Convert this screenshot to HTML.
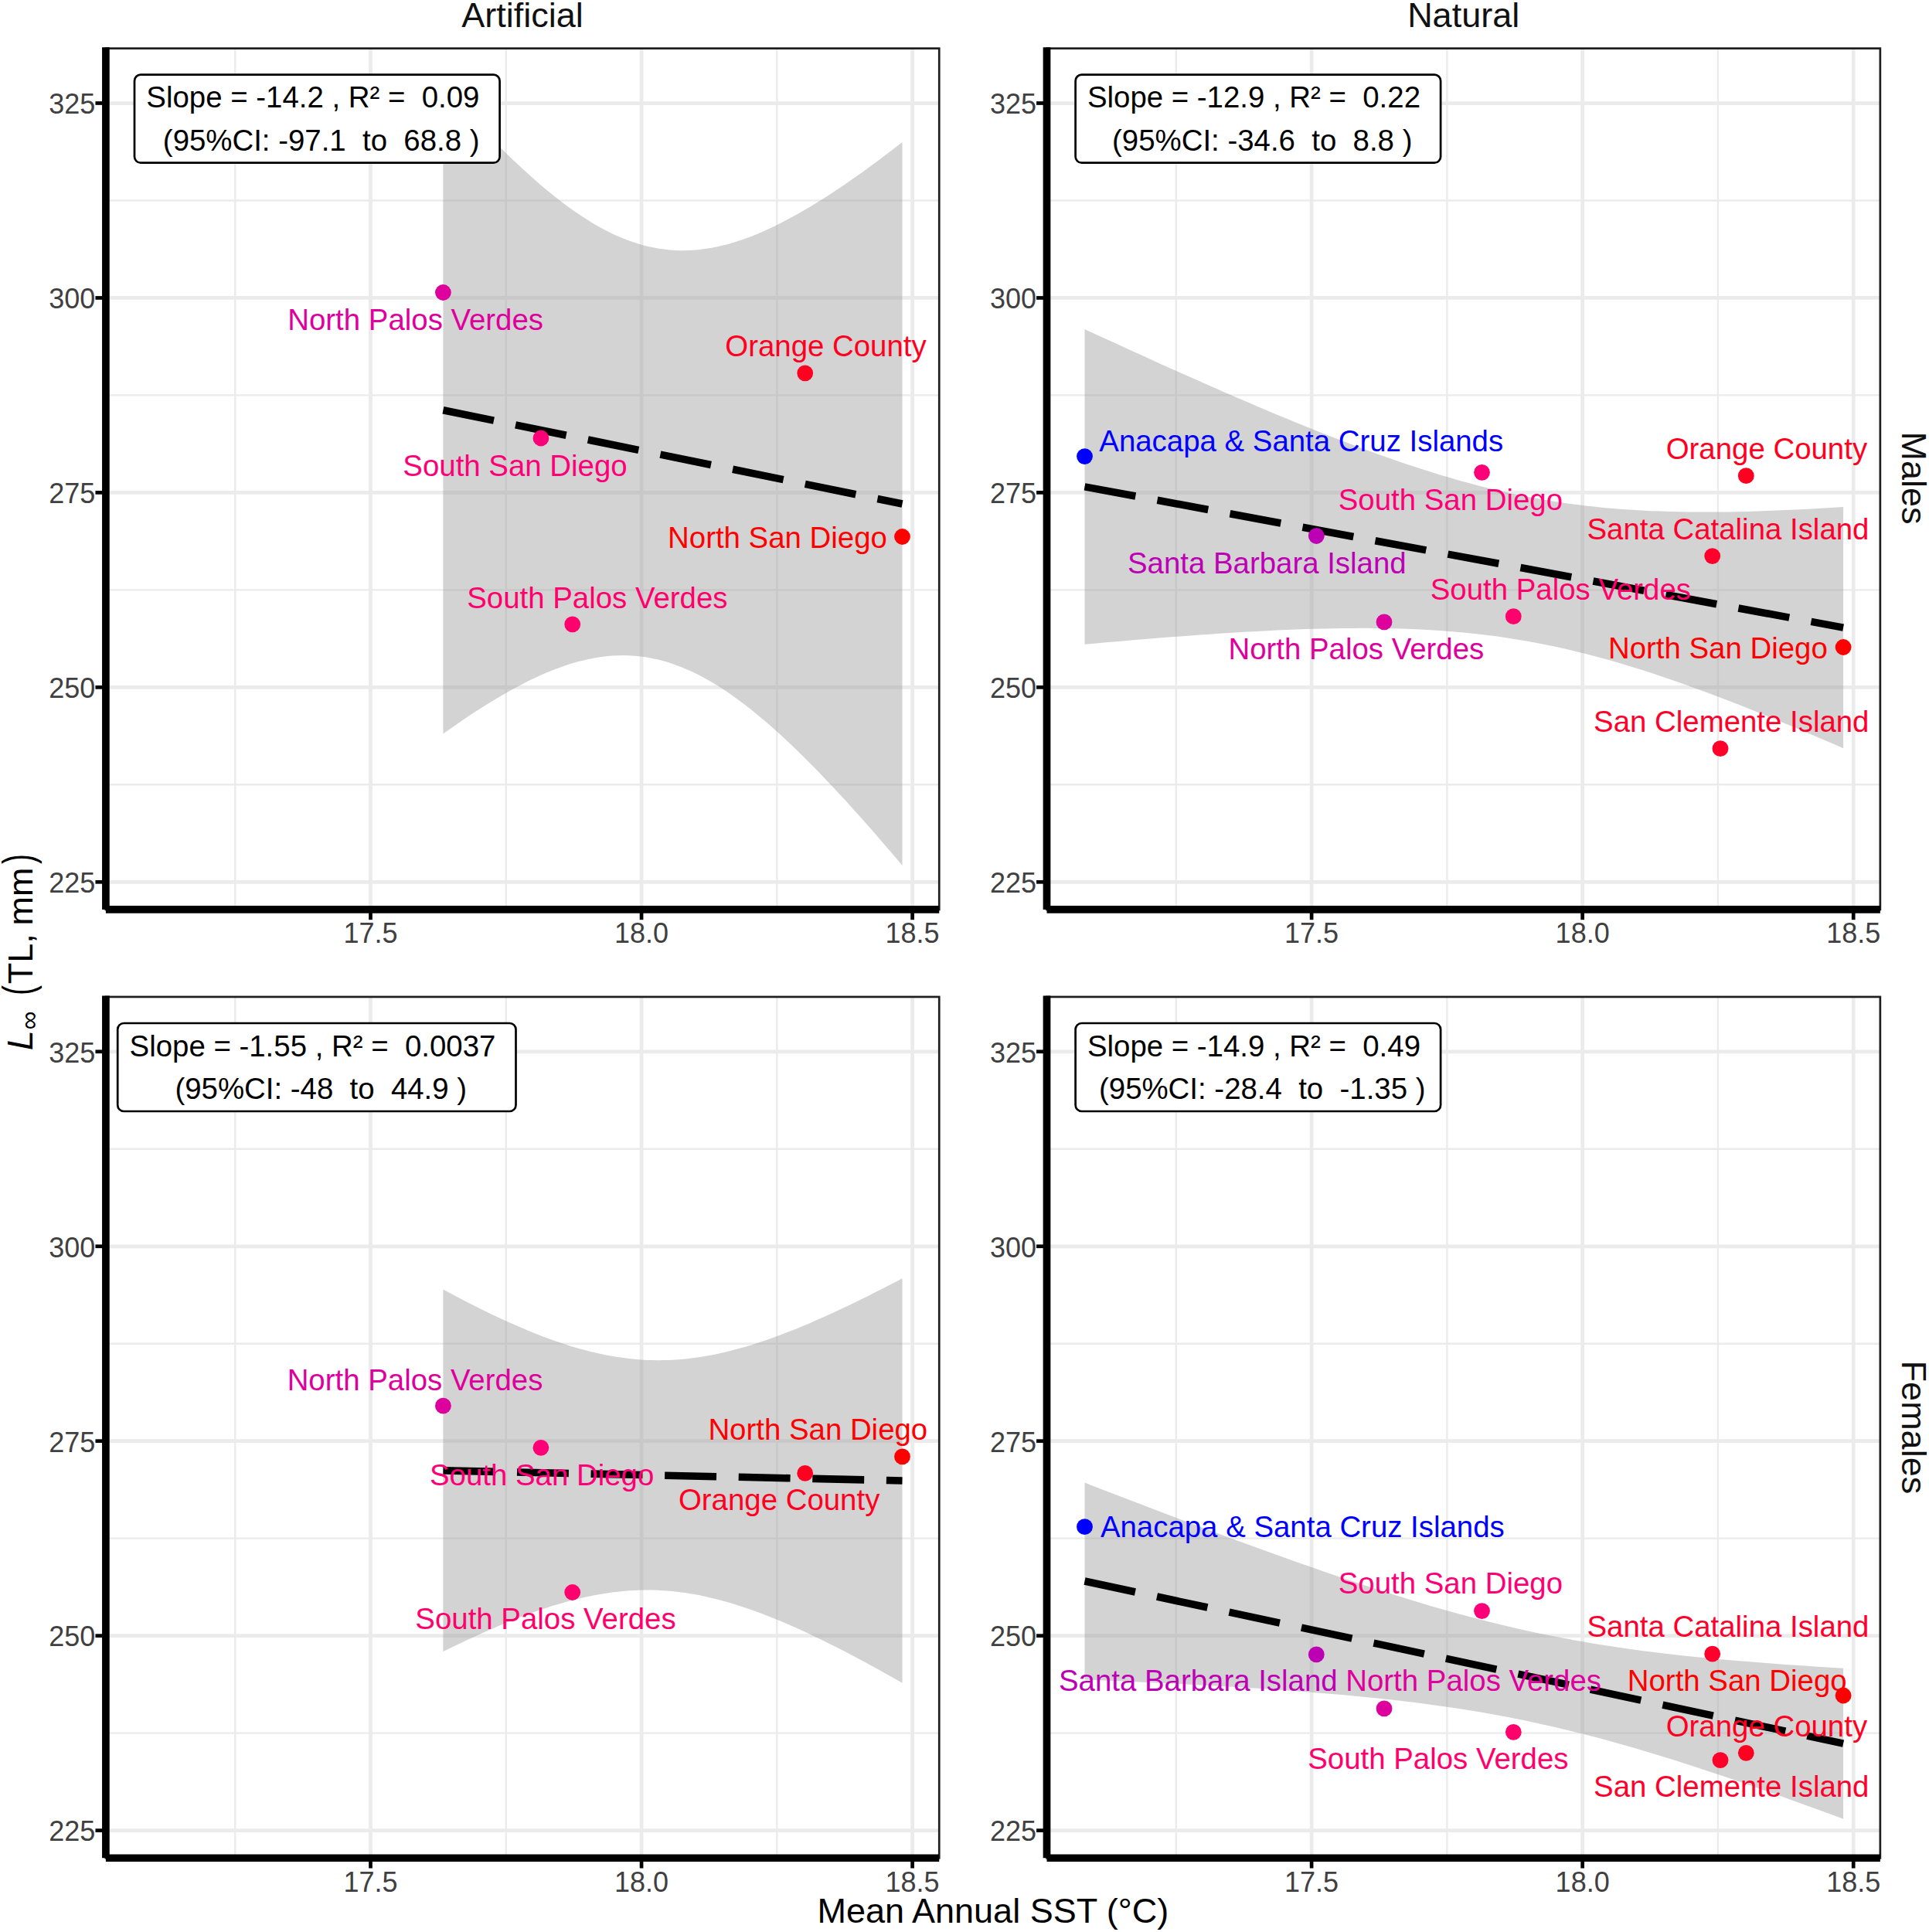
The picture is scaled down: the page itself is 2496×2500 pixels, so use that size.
<!DOCTYPE html>
<html lang="en"><head><meta charset="utf-8"><title>L-infinity vs Mean Annual SST</title>
<style>
html,body{margin:0;padding:0;background:#fff;}
body{width:2496px;height:2500px;overflow:hidden;}
svg{display:block;font-family:"Liberation Sans", "DejaVu Sans", sans-serif;}
text{white-space:pre;}
.ax{font-size:36.0px;fill:#404040;}
.ti{font-size:45.0px;fill:#000;}
.st{font-size:45.0px;fill:#111;}
.lb{font-size:38.4px;}
.an{font-size:38.4px;fill:#000;text-anchor:middle;}
</style></head><body>
<svg width="2496" height="2500" viewBox="0 0 2496 2500">
<rect width="2496" height="2500" fill="#fff"/>
<g id="panel-0-0">
<clipPath id="clip00"><rect x="136.90" y="62.65" width="1078.35" height="1114.30"/></clipPath>
<g clip-path="url(#clip00)">
<line x1="136.90" x2="1215.25" y1="1015.32" y2="1015.32" stroke="#ebebeb" stroke-width="2.4"/>
<line x1="136.90" x2="1215.25" y1="763.38" y2="763.38" stroke="#ebebeb" stroke-width="2.4"/>
<line x1="136.90" x2="1215.25" y1="511.42" y2="511.42" stroke="#ebebeb" stroke-width="2.4"/>
<line x1="136.90" x2="1215.25" y1="259.48" y2="259.48" stroke="#ebebeb" stroke-width="2.4"/>
<line y1="62.65" y2="1176.95" x1="304.23" x2="304.23" stroke="#ebebeb" stroke-width="2.4"/>
<line y1="62.65" y2="1176.95" x1="654.77" x2="654.77" stroke="#ebebeb" stroke-width="2.4"/>
<line y1="62.65" y2="1176.95" x1="1005.33" x2="1005.33" stroke="#ebebeb" stroke-width="2.4"/>
<line x1="136.90" x2="1215.25" y1="1141.30" y2="1141.30" stroke="#ebebeb" stroke-width="4.75"/>
<line x1="136.90" x2="1215.25" y1="889.35" y2="889.35" stroke="#ebebeb" stroke-width="4.75"/>
<line x1="136.90" x2="1215.25" y1="637.40" y2="637.40" stroke="#ebebeb" stroke-width="4.75"/>
<line x1="136.90" x2="1215.25" y1="385.45" y2="385.45" stroke="#ebebeb" stroke-width="4.75"/>
<line x1="136.90" x2="1215.25" y1="133.50" y2="133.50" stroke="#ebebeb" stroke-width="4.75"/>
<line y1="62.65" y2="1176.95" x1="479.50" x2="479.50" stroke="#ebebeb" stroke-width="4.75"/>
<line y1="62.65" y2="1176.95" x1="830.05" x2="830.05" stroke="#ebebeb" stroke-width="4.75"/>
<line y1="62.65" y2="1176.95" x1="1180.60" x2="1180.60" stroke="#ebebeb" stroke-width="4.75"/>
<polygon points="573.4,112.0 580.9,120.4 588.4,128.8 596.0,137.0 603.5,145.2 611.0,153.3 618.5,161.2 626.0,169.1 633.6,176.9 641.1,184.5 648.6,192.0 656.1,199.4 663.6,206.7 671.2,213.8 678.7,220.8 686.2,227.6 693.7,234.2 701.2,240.7 708.8,247.0 716.3,253.1 723.8,259.0 731.3,264.7 738.8,270.2 746.4,275.5 753.9,280.5 761.4,285.3 768.9,289.9 776.4,294.2 784.0,298.2 791.5,301.9 799.0,305.4 806.5,308.6 814.0,311.5 821.6,314.1 829.1,316.4 836.6,318.4 844.1,320.1 851.6,321.5 859.2,322.6 866.7,323.4 874.2,323.9 881.7,324.2 889.3,324.1 896.8,323.7 904.3,323.1 911.8,322.1 919.3,320.9 926.9,319.5 934.4,317.8 941.9,315.9 949.4,313.7 956.9,311.3 964.5,308.7 972.0,305.9 979.5,302.9 987.0,299.7 994.5,296.3 1002.1,292.7 1009.6,289.0 1017.1,285.1 1024.6,281.1 1032.1,276.9 1039.7,272.6 1047.2,268.2 1054.7,263.6 1062.2,258.9 1069.7,254.2 1077.3,249.3 1084.8,244.3 1092.3,239.2 1099.8,234.0 1107.3,228.7 1114.9,223.4 1122.4,218.0 1129.9,212.5 1137.4,206.9 1144.9,201.3 1152.5,195.6 1160.0,189.8 1167.5,184.0 1167.5,1120.0 1160.0,1111.1 1152.5,1102.3 1144.9,1093.5 1137.4,1084.8 1129.9,1076.1 1122.4,1067.6 1114.9,1059.1 1107.3,1050.7 1099.8,1042.3 1092.3,1034.1 1084.8,1025.9 1077.3,1017.9 1069.7,1009.9 1062.2,1002.1 1054.7,994.3 1047.2,986.7 1039.7,979.2 1032.1,971.8 1024.6,964.6 1017.1,957.5 1009.6,950.5 1002.1,943.7 994.5,937.1 987.0,930.7 979.5,924.4 972.0,918.3 964.5,912.4 956.9,906.7 949.4,901.3 941.9,896.0 934.4,891.0 926.9,886.3 919.3,881.8 911.8,877.5 904.3,873.5 896.8,869.8 889.3,866.4 881.7,863.2 874.2,860.4 866.7,857.8 859.2,855.5 851.6,853.6 844.1,851.9 836.6,850.5 829.1,849.5 821.6,848.7 814.0,848.3 806.5,848.1 799.0,848.2 791.5,848.6 784.0,849.3 776.4,850.3 768.9,851.5 761.4,853.0 753.9,854.7 746.4,856.6 738.8,858.8 731.3,861.3 723.8,863.9 716.3,866.8 708.8,869.8 701.2,873.0 693.7,876.4 686.2,880.0 678.7,883.8 671.2,887.7 663.6,891.7 656.1,895.9 648.6,900.2 641.1,904.7 633.6,909.2 626.0,913.9 618.5,918.7 611.0,923.6 603.5,928.6 596.0,933.7 588.4,938.9 580.9,944.2 573.4,949.6" fill="#999999" fill-opacity="0.43"/>
<line x1="573.40" y1="530.79" x2="1167.50" y2="651.98" stroke="#000" stroke-width="9.6" stroke-dasharray="66.9 28.7"/>
<circle cx="573.40" cy="378.50" r="10.4" fill="#de009c"/>
<circle cx="699.90" cy="567.00" r="10.4" fill="#fd0078"/>
<circle cx="740.70" cy="807.80" r="10.4" fill="#ff006c"/>
<circle cx="1041.70" cy="482.80" r="10.4" fill="#ff0021"/>
<circle cx="1167.50" cy="694.50" r="10.4" fill="#ff0000"/>
</g>
<text class="lb" x="372.25" y="427.00" text-anchor="start" fill="#de009c">North Palos Verdes</text>
<text class="lb" x="521.36" y="615.70" text-anchor="start" fill="#fd0078">South San Diego</text>
<text class="lb" x="604.26" y="787.10" text-anchor="start" fill="#ff006c">South Palos Verdes</text>
<text class="lb" x="1198.68" y="460.80" text-anchor="end" fill="#ff0021">Orange County</text>
<text class="lb" x="1147.91" y="708.70" text-anchor="end" fill="#ff0000">North San Diego</text>
<rect x="174.00" y="96.70" width="472.60" height="114.00" rx="8" ry="8" fill="#fff" stroke="#000" stroke-width="2.7"/>
<text class="an" x="404.90" y="139.30">Slope = -14.2 , R² =  0.09</text>
<text class="an" x="415.70" y="194.65">(95%CI: -97.1  to  68.8 )</text>
<rect x="136.90" y="62.65" width="1078.35" height="1114.30" fill="none" stroke="#1e1e1e" stroke-width="2.7"/>
<line x1="136.90" x2="136.90" y1="61.30" y2="1176.95" stroke="#000" stroke-width="9.7"/>
<line x1="136.90" x2="1215.25" y1="1176.95" y2="1176.95" stroke="#000" stroke-width="9.7"/>
<line x1="123.45" x2="136.90" y1="1141.30" y2="1141.30" stroke="#000" stroke-width="4.7"/>
<text class="ax" x="123.40" y="1155.10" text-anchor="end">225</text>
<line x1="123.45" x2="136.90" y1="889.35" y2="889.35" stroke="#000" stroke-width="4.7"/>
<text class="ax" x="123.40" y="903.15" text-anchor="end">250</text>
<line x1="123.45" x2="136.90" y1="637.40" y2="637.40" stroke="#000" stroke-width="4.7"/>
<text class="ax" x="123.40" y="651.20" text-anchor="end">275</text>
<line x1="123.45" x2="136.90" y1="385.45" y2="385.45" stroke="#000" stroke-width="4.7"/>
<text class="ax" x="123.40" y="399.25" text-anchor="end">300</text>
<line x1="123.45" x2="136.90" y1="133.50" y2="133.50" stroke="#000" stroke-width="4.7"/>
<text class="ax" x="123.40" y="147.30" text-anchor="end">325</text>
<line y1="1176.95" y2="1190.20" x1="479.50" x2="479.50" stroke="#000" stroke-width="4.7"/>
<text class="ax" x="479.50" y="1220.35" text-anchor="middle">17.5</text>
<line y1="1176.95" y2="1190.20" x1="830.05" x2="830.05" stroke="#000" stroke-width="4.7"/>
<text class="ax" x="830.05" y="1220.35" text-anchor="middle">18.0</text>
<line y1="1176.95" y2="1190.20" x1="1180.60" x2="1180.60" stroke="#000" stroke-width="4.7"/>
<text class="ax" x="1180.60" y="1220.35" text-anchor="middle">18.5</text>
</g>
<g id="panel-0-1">
<clipPath id="clip01"><rect x="1354.50" y="62.65" width="1078.35" height="1114.30"/></clipPath>
<g clip-path="url(#clip01)">
<line x1="1354.50" x2="2432.85" y1="1015.32" y2="1015.32" stroke="#ebebeb" stroke-width="2.4"/>
<line x1="1354.50" x2="2432.85" y1="763.38" y2="763.38" stroke="#ebebeb" stroke-width="2.4"/>
<line x1="1354.50" x2="2432.85" y1="511.42" y2="511.42" stroke="#ebebeb" stroke-width="2.4"/>
<line x1="1354.50" x2="2432.85" y1="259.48" y2="259.48" stroke="#ebebeb" stroke-width="2.4"/>
<line y1="62.65" y2="1176.95" x1="1521.82" x2="1521.82" stroke="#ebebeb" stroke-width="2.4"/>
<line y1="62.65" y2="1176.95" x1="1872.38" x2="1872.38" stroke="#ebebeb" stroke-width="2.4"/>
<line y1="62.65" y2="1176.95" x1="2222.93" x2="2222.93" stroke="#ebebeb" stroke-width="2.4"/>
<line x1="1354.50" x2="2432.85" y1="1141.30" y2="1141.30" stroke="#ebebeb" stroke-width="4.75"/>
<line x1="1354.50" x2="2432.85" y1="889.35" y2="889.35" stroke="#ebebeb" stroke-width="4.75"/>
<line x1="1354.50" x2="2432.85" y1="637.40" y2="637.40" stroke="#ebebeb" stroke-width="4.75"/>
<line x1="1354.50" x2="2432.85" y1="385.45" y2="385.45" stroke="#ebebeb" stroke-width="4.75"/>
<line x1="1354.50" x2="2432.85" y1="133.50" y2="133.50" stroke="#ebebeb" stroke-width="4.75"/>
<line y1="62.65" y2="1176.95" x1="1697.10" x2="1697.10" stroke="#ebebeb" stroke-width="4.75"/>
<line y1="62.65" y2="1176.95" x1="2047.65" x2="2047.65" stroke="#ebebeb" stroke-width="4.75"/>
<line y1="62.65" y2="1176.95" x1="2398.20" x2="2398.20" stroke="#ebebeb" stroke-width="4.75"/>
<polygon points="1403.5,425.9 1415.9,431.7 1428.4,437.4 1440.8,443.1 1453.2,448.8 1465.6,454.5 1478.1,460.1 1490.5,465.8 1502.9,471.4 1515.3,477.0 1527.8,482.5 1540.2,488.1 1552.6,493.6 1565.0,499.0 1577.5,504.5 1589.9,509.9 1602.3,515.3 1614.7,520.6 1627.2,525.9 1639.6,531.2 1652.0,536.4 1664.4,541.5 1676.9,546.7 1689.3,551.7 1701.7,556.7 1714.1,561.7 1726.6,566.5 1739.0,571.3 1751.4,576.1 1763.8,580.7 1776.3,585.3 1788.7,589.7 1801.1,594.1 1813.5,598.4 1826.0,602.6 1838.4,606.6 1850.8,610.6 1863.2,614.4 1875.7,618.1 1888.1,621.7 1900.5,625.1 1912.9,628.4 1925.4,631.5 1937.8,634.5 1950.2,637.3 1962.6,640.0 1975.1,642.5 1987.5,644.8 1999.9,647.0 2012.3,649.1 2024.8,650.9 2037.2,652.6 2049.6,654.2 2062.0,655.6 2074.5,656.9 2086.9,658.0 2099.3,659.0 2111.7,659.8 2124.2,660.5 2136.6,661.2 2149.0,661.6 2161.4,662.0 2173.9,662.3 2186.3,662.5 2198.7,662.6 2211.1,662.6 2223.6,662.5 2236.0,662.4 2248.4,662.2 2260.8,661.9 2273.3,661.5 2285.7,661.1 2298.1,660.6 2310.5,660.1 2323.0,659.5 2335.4,658.9 2347.8,658.2 2360.2,657.5 2372.7,656.8 2385.1,656.0 2385.1,968.2 2372.7,962.8 2360.2,957.5 2347.8,952.2 2335.4,946.9 2323.0,941.6 2310.5,936.5 2298.1,931.3 2285.7,926.2 2273.3,921.2 2260.8,916.2 2248.4,911.3 2236.0,906.5 2223.6,901.7 2211.1,897.0 2198.7,892.4 2186.3,887.9 2173.9,883.5 2161.4,879.2 2149.0,874.9 2136.6,870.8 2124.2,866.8 2111.7,862.9 2099.3,859.2 2086.9,855.5 2074.5,852.0 2062.0,848.7 2049.6,845.5 2037.2,842.4 2024.8,839.5 2012.3,836.8 1999.9,834.2 1987.5,831.7 1975.1,829.5 1962.6,827.4 1950.2,825.4 1937.8,823.6 1925.4,822.0 1912.9,820.5 1900.5,819.2 1888.1,818.0 1875.7,817.0 1863.2,816.0 1850.8,815.2 1838.4,814.6 1826.0,814.0 1813.5,813.6 1801.1,813.3 1788.7,813.0 1776.3,812.9 1763.8,812.8 1751.4,812.9 1739.0,813.0 1726.6,813.2 1714.1,813.4 1701.7,813.7 1689.3,814.1 1676.9,814.6 1664.4,815.1 1652.0,815.6 1639.6,816.2 1627.2,816.9 1614.7,817.5 1602.3,818.3 1589.9,819.0 1577.5,819.8 1565.0,820.7 1552.6,821.5 1540.2,822.4 1527.8,823.4 1515.3,824.3 1502.9,825.3 1490.5,826.3 1478.1,827.3 1465.6,828.3 1453.2,829.4 1440.8,830.5 1428.4,831.6 1415.9,832.7 1403.5,833.8" fill="#999999" fill-opacity="0.43"/>
<line x1="1403.50" y1="629.86" x2="2385.10" y2="812.12" stroke="#000" stroke-width="9.6" stroke-dasharray="66.9 28.7"/>
<circle cx="1403.50" cy="590.60" r="10.4" fill="#0000ff"/>
<circle cx="1703.30" cy="693.50" r="10.4" fill="#be00b4"/>
<circle cx="1791.00" cy="804.90" r="10.4" fill="#de009c"/>
<circle cx="1917.50" cy="611.30" r="10.4" fill="#fd0078"/>
<circle cx="1958.30" cy="797.70" r="10.4" fill="#ff006c"/>
<circle cx="2215.70" cy="719.60" r="10.4" fill="#ff002c"/>
<circle cx="2226.00" cy="968.70" r="10.4" fill="#ff002a"/>
<circle cx="2259.30" cy="615.70" r="10.4" fill="#ff0021"/>
<circle cx="2385.10" cy="837.50" r="10.4" fill="#ff0000"/>
</g>
<text class="lb" x="1422.32" y="583.80" text-anchor="start" fill="#0000ff">Anacapa &amp; Santa Cruz Islands</text>
<text class="lb" x="1458.96" y="741.70" text-anchor="start" fill="#be00b4">Santa Barbara Island</text>
<text class="lb" x="1589.45" y="853.20" text-anchor="start" fill="#de009c">North Palos Verdes</text>
<text class="lb" x="1731.76" y="659.60" text-anchor="start" fill="#fd0078">South San Diego</text>
<text class="lb" x="1850.76" y="775.80" text-anchor="start" fill="#ff006c">South Palos Verdes</text>
<text class="lb" x="2418.48" y="698.40" text-anchor="end" fill="#ff002c">Santa Catalina Island</text>
<text class="lb" x="2418.48" y="947.30" text-anchor="end" fill="#ff002a">San Clemente Island</text>
<text class="lb" x="2416.08" y="593.90" text-anchor="end" fill="#ff0021">Orange County</text>
<text class="lb" x="2364.81" y="852.40" text-anchor="end" fill="#ff0000">North San Diego</text>
<rect x="1391.60" y="96.70" width="472.50" height="114.00" rx="8" ry="8" fill="#fff" stroke="#000" stroke-width="2.7"/>
<text class="an" x="1622.45" y="139.30">Slope = -12.9 , R² =  0.22</text>
<text class="an" x="1633.25" y="194.65">(95%CI: -34.6  to  8.8 )</text>
<rect x="1354.50" y="62.65" width="1078.35" height="1114.30" fill="none" stroke="#1e1e1e" stroke-width="2.7"/>
<line x1="1354.50" x2="1354.50" y1="61.30" y2="1176.95" stroke="#000" stroke-width="9.7"/>
<line x1="1354.50" x2="2432.85" y1="1176.95" y2="1176.95" stroke="#000" stroke-width="9.7"/>
<line x1="1341.05" x2="1354.50" y1="1141.30" y2="1141.30" stroke="#000" stroke-width="4.7"/>
<text class="ax" x="1341.00" y="1155.10" text-anchor="end">225</text>
<line x1="1341.05" x2="1354.50" y1="889.35" y2="889.35" stroke="#000" stroke-width="4.7"/>
<text class="ax" x="1341.00" y="903.15" text-anchor="end">250</text>
<line x1="1341.05" x2="1354.50" y1="637.40" y2="637.40" stroke="#000" stroke-width="4.7"/>
<text class="ax" x="1341.00" y="651.20" text-anchor="end">275</text>
<line x1="1341.05" x2="1354.50" y1="385.45" y2="385.45" stroke="#000" stroke-width="4.7"/>
<text class="ax" x="1341.00" y="399.25" text-anchor="end">300</text>
<line x1="1341.05" x2="1354.50" y1="133.50" y2="133.50" stroke="#000" stroke-width="4.7"/>
<text class="ax" x="1341.00" y="147.30" text-anchor="end">325</text>
<line y1="1176.95" y2="1190.20" x1="1697.10" x2="1697.10" stroke="#000" stroke-width="4.7"/>
<text class="ax" x="1697.10" y="1220.35" text-anchor="middle">17.5</text>
<line y1="1176.95" y2="1190.20" x1="2047.65" x2="2047.65" stroke="#000" stroke-width="4.7"/>
<text class="ax" x="2047.65" y="1220.35" text-anchor="middle">18.0</text>
<line y1="1176.95" y2="1190.20" x1="2398.20" x2="2398.20" stroke="#000" stroke-width="4.7"/>
<text class="ax" x="2398.20" y="1220.35" text-anchor="middle">18.5</text>
</g>
<g id="panel-1-0">
<clipPath id="clip10"><rect x="136.90" y="1289.95" width="1078.35" height="1114.30"/></clipPath>
<g clip-path="url(#clip10)">
<line x1="136.90" x2="1215.25" y1="2242.62" y2="2242.62" stroke="#ebebeb" stroke-width="2.4"/>
<line x1="136.90" x2="1215.25" y1="1990.67" y2="1990.67" stroke="#ebebeb" stroke-width="2.4"/>
<line x1="136.90" x2="1215.25" y1="1738.72" y2="1738.72" stroke="#ebebeb" stroke-width="2.4"/>
<line x1="136.90" x2="1215.25" y1="1486.77" y2="1486.77" stroke="#ebebeb" stroke-width="2.4"/>
<line y1="1289.95" y2="2404.25" x1="304.23" x2="304.23" stroke="#ebebeb" stroke-width="2.4"/>
<line y1="1289.95" y2="2404.25" x1="654.77" x2="654.77" stroke="#ebebeb" stroke-width="2.4"/>
<line y1="1289.95" y2="2404.25" x1="1005.33" x2="1005.33" stroke="#ebebeb" stroke-width="2.4"/>
<line x1="136.90" x2="1215.25" y1="2368.60" y2="2368.60" stroke="#ebebeb" stroke-width="4.75"/>
<line x1="136.90" x2="1215.25" y1="2116.65" y2="2116.65" stroke="#ebebeb" stroke-width="4.75"/>
<line x1="136.90" x2="1215.25" y1="1864.70" y2="1864.70" stroke="#ebebeb" stroke-width="4.75"/>
<line x1="136.90" x2="1215.25" y1="1612.75" y2="1612.75" stroke="#ebebeb" stroke-width="4.75"/>
<line x1="136.90" x2="1215.25" y1="1360.80" y2="1360.80" stroke="#ebebeb" stroke-width="4.75"/>
<line y1="1289.95" y2="2404.25" x1="479.50" x2="479.50" stroke="#ebebeb" stroke-width="4.75"/>
<line y1="1289.95" y2="2404.25" x1="830.05" x2="830.05" stroke="#ebebeb" stroke-width="4.75"/>
<line y1="1289.95" y2="2404.25" x1="1180.60" x2="1180.60" stroke="#ebebeb" stroke-width="4.75"/>
<polygon points="573.4,1668.6 580.9,1672.6 588.4,1676.6 596.0,1680.5 603.5,1684.4 611.0,1688.2 618.5,1692.0 626.0,1695.7 633.6,1699.4 641.1,1703.0 648.6,1706.5 656.1,1709.9 663.6,1713.3 671.2,1716.6 678.7,1719.8 686.2,1722.9 693.7,1725.9 701.2,1728.9 708.8,1731.7 716.3,1734.4 723.8,1737.0 731.3,1739.5 738.8,1741.9 746.4,1744.2 753.9,1746.3 761.4,1748.3 768.9,1750.1 776.4,1751.8 784.0,1753.4 791.5,1754.8 799.0,1756.0 806.5,1757.1 814.0,1758.1 821.6,1758.8 829.1,1759.4 836.6,1759.9 844.1,1760.1 851.6,1760.2 859.2,1760.1 866.7,1759.9 874.2,1759.5 881.7,1758.9 889.3,1758.2 896.8,1757.3 904.3,1756.2 911.8,1755.0 919.3,1753.7 926.9,1752.2 934.4,1750.5 941.9,1748.7 949.4,1746.8 956.9,1744.8 964.5,1742.7 972.0,1740.4 979.5,1738.0 987.0,1735.5 994.5,1732.9 1002.1,1730.3 1009.6,1727.5 1017.1,1724.6 1024.6,1721.7 1032.1,1718.7 1039.7,1715.6 1047.2,1712.4 1054.7,1709.1 1062.2,1705.8 1069.7,1702.5 1077.3,1699.0 1084.8,1695.6 1092.3,1692.0 1099.8,1688.4 1107.3,1684.8 1114.9,1681.1 1122.4,1677.4 1129.9,1673.6 1137.4,1669.8 1144.9,1666.0 1152.5,1662.1 1160.0,1658.2 1167.5,1654.2 1167.5,2177.8 1160.0,2173.5 1152.5,2169.2 1144.9,2165.0 1137.4,2160.8 1129.9,2156.7 1122.4,2152.6 1114.9,2148.5 1107.3,2144.5 1099.8,2140.6 1092.3,2136.6 1084.8,2132.8 1077.3,2129.0 1069.7,2125.2 1062.2,2121.5 1054.7,2117.9 1047.2,2114.3 1039.7,2110.8 1032.1,2107.3 1024.6,2104.0 1017.1,2100.7 1009.6,2097.5 1002.1,2094.4 994.5,2091.4 987.0,2088.5 979.5,2085.7 972.0,2082.9 964.5,2080.4 956.9,2077.9 949.4,2075.5 941.9,2073.3 934.4,2071.2 926.9,2069.2 919.3,2067.4 911.8,2065.7 904.3,2064.1 896.8,2062.7 889.3,2061.5 881.7,2060.4 874.2,2059.5 866.7,2058.8 859.2,2058.2 851.6,2057.8 844.1,2057.6 836.6,2057.5 829.1,2057.6 821.6,2057.9 814.0,2058.3 806.5,2058.9 799.0,2059.7 791.5,2060.6 784.0,2061.7 776.4,2062.9 768.9,2064.3 761.4,2065.8 753.9,2067.4 746.4,2069.2 738.8,2071.1 731.3,2073.2 723.8,2075.4 716.3,2077.6 708.8,2080.0 701.2,2082.5 693.7,2085.1 686.2,2087.8 678.7,2090.6 671.2,2093.5 663.6,2096.4 656.1,2099.5 648.6,2102.6 641.1,2105.8 633.6,2109.0 626.0,2112.3 618.5,2115.7 611.0,2119.2 603.5,2122.6 596.0,2126.2 588.4,2129.8 580.9,2133.4 573.4,2137.1" fill="#999999" fill-opacity="0.43"/>
<line x1="573.40" y1="1902.87" x2="1167.50" y2="1915.99" stroke="#000" stroke-width="9.6" stroke-dasharray="66.9 28.7"/>
<circle cx="573.40" cy="1819.20" r="10.4" fill="#de009c"/>
<circle cx="699.90" cy="1873.30" r="10.4" fill="#fd0078"/>
<circle cx="740.70" cy="2060.50" r="10.4" fill="#ff006c"/>
<circle cx="1041.70" cy="1906.40" r="10.4" fill="#ff0021"/>
<circle cx="1167.50" cy="1884.90" r="10.4" fill="#ff0000"/>
</g>
<text class="lb" x="371.65" y="1799.30" text-anchor="start" fill="#de009c">North Palos Verdes</text>
<text class="lb" x="555.96" y="1921.50" text-anchor="start" fill="#fd0078">South San Diego</text>
<text class="lb" x="537.36" y="2108.10" text-anchor="start" fill="#ff006c">South Palos Verdes</text>
<text class="lb" x="877.98" y="1954.30" text-anchor="start" fill="#ff0021">Orange County</text>
<text class="lb" x="1200.21" y="1863.40" text-anchor="end" fill="#ff0000">North San Diego</text>
<rect x="152.20" y="1324.00" width="515.30" height="114.00" rx="8" ry="8" fill="#fff" stroke="#000" stroke-width="2.7"/>
<text class="an" x="404.45" y="1366.60">Slope = -1.55 , R² =  0.0037</text>
<text class="an" x="415.25" y="1421.95">(95%CI: -48  to  44.9 )</text>
<rect x="136.90" y="1289.95" width="1078.35" height="1114.30" fill="none" stroke="#1e1e1e" stroke-width="2.7"/>
<line x1="136.90" x2="136.90" y1="1288.60" y2="2404.25" stroke="#000" stroke-width="9.7"/>
<line x1="136.90" x2="1215.25" y1="2404.25" y2="2404.25" stroke="#000" stroke-width="9.7"/>
<line x1="123.45" x2="136.90" y1="2368.60" y2="2368.60" stroke="#000" stroke-width="4.7"/>
<text class="ax" x="123.40" y="2382.40" text-anchor="end">225</text>
<line x1="123.45" x2="136.90" y1="2116.65" y2="2116.65" stroke="#000" stroke-width="4.7"/>
<text class="ax" x="123.40" y="2130.45" text-anchor="end">250</text>
<line x1="123.45" x2="136.90" y1="1864.70" y2="1864.70" stroke="#000" stroke-width="4.7"/>
<text class="ax" x="123.40" y="1878.50" text-anchor="end">275</text>
<line x1="123.45" x2="136.90" y1="1612.75" y2="1612.75" stroke="#000" stroke-width="4.7"/>
<text class="ax" x="123.40" y="1626.55" text-anchor="end">300</text>
<line x1="123.45" x2="136.90" y1="1360.80" y2="1360.80" stroke="#000" stroke-width="4.7"/>
<text class="ax" x="123.40" y="1374.60" text-anchor="end">325</text>
<line y1="2404.25" y2="2417.50" x1="479.50" x2="479.50" stroke="#000" stroke-width="4.7"/>
<text class="ax" x="479.50" y="2447.65" text-anchor="middle">17.5</text>
<line y1="2404.25" y2="2417.50" x1="830.05" x2="830.05" stroke="#000" stroke-width="4.7"/>
<text class="ax" x="830.05" y="2447.65" text-anchor="middle">18.0</text>
<line y1="2404.25" y2="2417.50" x1="1180.60" x2="1180.60" stroke="#000" stroke-width="4.7"/>
<text class="ax" x="1180.60" y="2447.65" text-anchor="middle">18.5</text>
</g>
<g id="panel-1-1">
<clipPath id="clip11"><rect x="1354.50" y="1289.95" width="1078.35" height="1114.30"/></clipPath>
<g clip-path="url(#clip11)">
<line x1="1354.50" x2="2432.85" y1="2242.62" y2="2242.62" stroke="#ebebeb" stroke-width="2.4"/>
<line x1="1354.50" x2="2432.85" y1="1990.67" y2="1990.67" stroke="#ebebeb" stroke-width="2.4"/>
<line x1="1354.50" x2="2432.85" y1="1738.72" y2="1738.72" stroke="#ebebeb" stroke-width="2.4"/>
<line x1="1354.50" x2="2432.85" y1="1486.77" y2="1486.77" stroke="#ebebeb" stroke-width="2.4"/>
<line y1="1289.95" y2="2404.25" x1="1521.82" x2="1521.82" stroke="#ebebeb" stroke-width="2.4"/>
<line y1="1289.95" y2="2404.25" x1="1872.38" x2="1872.38" stroke="#ebebeb" stroke-width="2.4"/>
<line y1="1289.95" y2="2404.25" x1="2222.93" x2="2222.93" stroke="#ebebeb" stroke-width="2.4"/>
<line x1="1354.50" x2="2432.85" y1="2368.60" y2="2368.60" stroke="#ebebeb" stroke-width="4.75"/>
<line x1="1354.50" x2="2432.85" y1="2116.65" y2="2116.65" stroke="#ebebeb" stroke-width="4.75"/>
<line x1="1354.50" x2="2432.85" y1="1864.70" y2="1864.70" stroke="#ebebeb" stroke-width="4.75"/>
<line x1="1354.50" x2="2432.85" y1="1612.75" y2="1612.75" stroke="#ebebeb" stroke-width="4.75"/>
<line x1="1354.50" x2="2432.85" y1="1360.80" y2="1360.80" stroke="#ebebeb" stroke-width="4.75"/>
<line y1="1289.95" y2="2404.25" x1="1697.10" x2="1697.10" stroke="#ebebeb" stroke-width="4.75"/>
<line y1="1289.95" y2="2404.25" x1="2047.65" x2="2047.65" stroke="#ebebeb" stroke-width="4.75"/>
<line y1="1289.95" y2="2404.25" x1="2398.20" x2="2398.20" stroke="#ebebeb" stroke-width="4.75"/>
<polygon points="1403.5,1918.6 1415.9,1923.5 1428.4,1928.3 1440.8,1933.0 1453.2,1937.8 1465.6,1942.6 1478.1,1947.3 1490.5,1952.1 1502.9,1956.8 1515.3,1961.5 1527.8,1966.2 1540.2,1970.9 1552.6,1975.5 1565.0,1980.2 1577.5,1984.8 1589.9,1989.4 1602.3,1994.0 1614.7,1998.5 1627.2,2003.1 1639.6,2007.6 1652.0,2012.0 1664.4,2016.5 1676.9,2020.9 1689.3,2025.3 1701.7,2029.6 1714.1,2033.9 1726.6,2038.2 1739.0,2042.4 1751.4,2046.6 1763.8,2050.7 1776.3,2054.8 1788.7,2058.8 1801.1,2062.7 1813.5,2066.6 1826.0,2070.4 1838.4,2074.2 1850.8,2077.9 1863.2,2081.5 1875.7,2085.0 1888.1,2088.5 1900.5,2091.8 1912.9,2095.1 1925.4,2098.3 1937.8,2101.3 1950.2,2104.3 1962.6,2107.2 1975.1,2110.0 1987.5,2112.7 1999.9,2115.3 2012.3,2117.8 2024.8,2120.1 2037.2,2122.4 2049.6,2124.6 2062.0,2126.7 2074.5,2128.7 2086.9,2130.6 2099.3,2132.5 2111.7,2134.2 2124.2,2135.9 2136.6,2137.5 2149.0,2139.0 2161.4,2140.5 2173.9,2141.9 2186.3,2143.2 2198.7,2144.5 2211.1,2145.7 2223.6,2146.9 2236.0,2148.0 2248.4,2149.1 2260.8,2150.1 2273.3,2151.1 2285.7,2152.1 2298.1,2153.0 2310.5,2153.9 2323.0,2154.8 2335.4,2155.6 2347.8,2156.4 2360.2,2157.2 2372.7,2157.9 2385.1,2158.7 2385.1,2353.7 2372.7,2349.1 2360.2,2344.5 2347.8,2340.0 2335.4,2335.5 2323.0,2331.0 2310.5,2326.5 2298.1,2322.1 2285.7,2317.7 2273.3,2313.3 2260.8,2309.0 2248.4,2304.7 2236.0,2300.5 2223.6,2296.3 2211.1,2292.2 2198.7,2288.1 2186.3,2284.0 2173.9,2280.0 2161.4,2276.1 2149.0,2272.2 2136.6,2268.5 2124.2,2264.7 2111.7,2261.1 2099.3,2257.5 2086.9,2254.0 2074.5,2250.6 2062.0,2247.3 2049.6,2244.1 2037.2,2241.0 2024.8,2237.9 2012.3,2235.0 1999.9,2232.2 1987.5,2229.4 1975.1,2226.8 1962.6,2224.3 1950.2,2221.8 1937.8,2219.5 1925.4,2217.3 1912.9,2215.1 1900.5,2213.1 1888.1,2211.1 1875.7,2209.2 1863.2,2207.4 1850.8,2205.7 1838.4,2204.1 1826.0,2202.5 1813.5,2201.0 1801.1,2199.6 1788.7,2198.2 1776.3,2196.9 1763.8,2195.7 1751.4,2194.5 1739.0,2193.3 1726.6,2192.2 1714.1,2191.2 1701.7,2190.2 1689.3,2189.2 1676.9,2188.2 1664.4,2187.3 1652.0,2186.5 1639.6,2185.6 1627.2,2184.8 1614.7,2184.0 1602.3,2183.2 1589.9,2182.5 1577.5,2181.8 1565.0,2181.1 1552.6,2180.4 1540.2,2179.7 1527.8,2179.1 1515.3,2178.5 1502.9,2177.9 1490.5,2177.3 1478.1,2176.7 1465.6,2176.1 1453.2,2175.6 1440.8,2175.0 1428.4,2174.5 1415.9,2174.0 1403.5,2173.4" fill="#999999" fill-opacity="0.43"/>
<line x1="1403.50" y1="2046.05" x2="2385.10" y2="2256.17" stroke="#000" stroke-width="9.6" stroke-dasharray="66.9 28.7"/>
<circle cx="1403.50" cy="1975.70" r="10.4" fill="#0000ff"/>
<circle cx="1703.30" cy="2140.90" r="10.4" fill="#be00b4"/>
<circle cx="1791.00" cy="2210.90" r="10.4" fill="#de009c"/>
<circle cx="1917.50" cy="2084.60" r="10.4" fill="#fd0078"/>
<circle cx="1958.30" cy="2241.30" r="10.4" fill="#ff006c"/>
<circle cx="2215.70" cy="2140.20" r="10.4" fill="#ff002c"/>
<circle cx="2226.00" cy="2277.70" r="10.4" fill="#ff002a"/>
<circle cx="2259.30" cy="2268.30" r="10.4" fill="#ff0021"/>
<circle cx="2385.10" cy="2194.00" r="10.4" fill="#ff0000"/>
</g>
<text class="lb" x="1423.92" y="1988.50" text-anchor="start" fill="#0000ff">Anacapa &amp; Santa Cruz Islands</text>
<text class="lb" x="1369.96" y="2188.10" text-anchor="start" fill="#be00b4">Santa Barbara Island</text>
<text class="lb" x="1741.25" y="2188.20" text-anchor="start" fill="#de009c">North Palos Verdes</text>
<text class="lb" x="1731.76" y="2062.20" text-anchor="start" fill="#fd0078">South San Diego</text>
<text class="lb" x="1692.26" y="2289.00" text-anchor="start" fill="#ff006c">South Palos Verdes</text>
<text class="lb" x="2418.48" y="2117.80" text-anchor="end" fill="#ff002c">Santa Catalina Island</text>
<text class="lb" x="2418.48" y="2324.60" text-anchor="end" fill="#ff002a">San Clemente Island</text>
<text class="lb" x="2416.08" y="2246.90" text-anchor="end" fill="#ff0021">Orange County</text>
<text class="lb" x="2389.61" y="2187.80" text-anchor="end" fill="#ff0000">North San Diego</text>
<rect x="1391.60" y="1324.00" width="472.50" height="114.00" rx="8" ry="8" fill="#fff" stroke="#000" stroke-width="2.7"/>
<text class="an" x="1622.45" y="1366.60">Slope = -14.9 , R² =  0.49</text>
<text class="an" x="1633.25" y="1421.95">(95%CI: -28.4  to  -1.35 )</text>
<rect x="1354.50" y="1289.95" width="1078.35" height="1114.30" fill="none" stroke="#1e1e1e" stroke-width="2.7"/>
<line x1="1354.50" x2="1354.50" y1="1288.60" y2="2404.25" stroke="#000" stroke-width="9.7"/>
<line x1="1354.50" x2="2432.85" y1="2404.25" y2="2404.25" stroke="#000" stroke-width="9.7"/>
<line x1="1341.05" x2="1354.50" y1="2368.60" y2="2368.60" stroke="#000" stroke-width="4.7"/>
<text class="ax" x="1341.00" y="2382.40" text-anchor="end">225</text>
<line x1="1341.05" x2="1354.50" y1="2116.65" y2="2116.65" stroke="#000" stroke-width="4.7"/>
<text class="ax" x="1341.00" y="2130.45" text-anchor="end">250</text>
<line x1="1341.05" x2="1354.50" y1="1864.70" y2="1864.70" stroke="#000" stroke-width="4.7"/>
<text class="ax" x="1341.00" y="1878.50" text-anchor="end">275</text>
<line x1="1341.05" x2="1354.50" y1="1612.75" y2="1612.75" stroke="#000" stroke-width="4.7"/>
<text class="ax" x="1341.00" y="1626.55" text-anchor="end">300</text>
<line x1="1341.05" x2="1354.50" y1="1360.80" y2="1360.80" stroke="#000" stroke-width="4.7"/>
<text class="ax" x="1341.00" y="1374.60" text-anchor="end">325</text>
<line y1="2404.25" y2="2417.50" x1="1697.10" x2="1697.10" stroke="#000" stroke-width="4.7"/>
<text class="ax" x="1697.10" y="2447.65" text-anchor="middle">17.5</text>
<line y1="2404.25" y2="2417.50" x1="2047.65" x2="2047.65" stroke="#000" stroke-width="4.7"/>
<text class="ax" x="2047.65" y="2447.65" text-anchor="middle">18.0</text>
<line y1="2404.25" y2="2417.50" x1="2398.20" x2="2398.20" stroke="#000" stroke-width="4.7"/>
<text class="ax" x="2398.20" y="2447.65" text-anchor="middle">18.5</text>
</g>
<text class="st" x="676.07" y="34.8" text-anchor="middle">Artificial</text>
<text class="st" x="1893.67" y="34.8" text-anchor="middle">Natural</text>
<text class="st" transform="translate(2460.7,618.60) rotate(90)" text-anchor="middle">Males</text>
<text class="st" transform="translate(2460.7,1846.90) rotate(90)" text-anchor="middle">Females</text>
<text class="ti" x="1284.88" y="2488.1" text-anchor="middle">Mean Annual SST (°C)</text>
<g class="ti" transform="translate(41.8,0) rotate(-90)">
<text x="-1359.35" y="0" font-style="italic" font-size="47">L</text>
<text x="-1332.45" y="7" font-size="33.6">∞</text>
<text transform="translate(-1287.9,-0.2) scale(0.87,1.227)">(</text>
<text x="-1273.2" y="0">TL,</text>
<text x="-1197.5" y="0">mm</text>
<text transform="translate(-1118.1,-0.2) scale(0.87,1.227)">)</text>
</g>
</svg></body></html>
